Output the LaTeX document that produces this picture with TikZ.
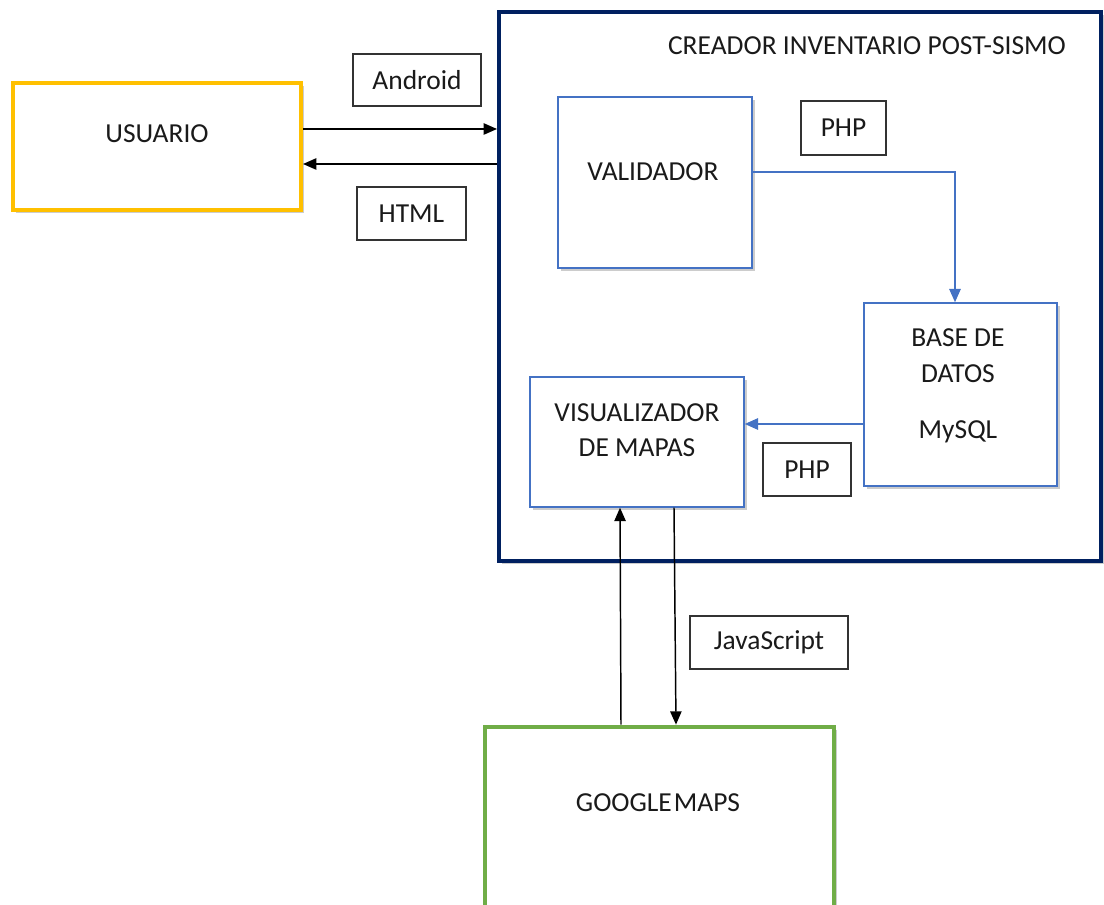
\documentclass[tikz,border=0pt]{standalone}
\usepackage{fontspec}
\setmainfont{Carlito}
\usetikzlibrary{arrows.meta,fit,shadows}
\definecolor{uyellow}{HTML}{FFC000}
\definecolor{unavy}{HTML}{002060}
\definecolor{ublue}{HTML}{4472C4}
\definecolor{ugreen}{HTML}{70AD47}
\definecolor{utext}{HTML}{1A1A1A}
\tikzset{
  softshadow/.style={drop shadow={shadow xshift=2.5pt, shadow yshift=-2.5pt, opacity=0.2, fill=black}},
  bigbox/.style={draw, line width=3pt, inner sep=0pt, fill=white, softshadow},
  bluebox/.style={draw=ublue, line width=1.1pt, inner sep=0pt, fill=white, softshadow},
  tagbox/.style={draw=black!80, line width=1.1pt, inner sep=0pt, fill=white},
  txt/.style={text=utext, font=\fontsize{20.6}{24}\selectfont, inner sep=0pt},
  blk/.style={draw=black, line width=1.1pt, -{Triangle[length=10pt,width=8.5pt]}},
  blu/.style={draw=ublue, line width=1.3pt, -{Triangle[length=10pt,width=8.5pt]}},
}
\begin{document}
\begin{tikzpicture}[x=0.75pt,y=-0.75pt]
\useasboundingbox (0,0) rectangle (1104,905);
\clip (0,0) rectangle (1104,905);
\fill[white] (0,0) rectangle (1104,905);

% outer boxes
\node[bigbox, draw=uyellow, fit={(13,83) (301,210)}] (usuario) {};
\node[bigbox, draw=unavy, fit={(499,12) (1101,561)}] (sistema) {};
\node[bigbox, draw=ugreen, line width=3.5pt, fit={(485,727) (834,915)}] (google) {};

% inner boxes
\node[bluebox, fit={(558,97) (752,268)}] (validador) {};
\node[bluebox, fit={(864,303) (1057,486)}] (bd) {};
\node[bluebox, fit={(530,377) (744,507)}] (visual) {};

% tag boxes
\node[tagbox, fit={(353,54) (481,106)}] (tandroid) {};
\node[tagbox, fit={(357,187) (466,240)}] (thtml) {};
\node[tagbox, fit={(801,101) (886,155)}] (tphp1) {};
\node[tagbox, fit={(763,443) (851,496)}] (tphp2) {};
\node[tagbox, fit={(690,616) (848,669)}] (tjs) {};

% texts
\node[txt] (lusuario) at (157,134) {USUARIO};
\node[txt] (ltitle) at (867,46) {CREADOR INVENTARIO POST-SISMO};
\node[txt] (lvalid) at (653,172) {VALIDADOR};
\node[txt] (lbd1) at (958,338) {BASE DE};
\node[txt] (lbd2) at (958,374) {DATOS};
\node[txt] (lbd3) at (958,432) {MySQL};
\node[txt] (lvis1) at (637,413) {VISUALIZADOR};
\node[txt] (lvis2) at (637,448) {DE MAPAS};
\node[txt] (lgoogle) at (658,803) {GOOGLE\kern1.5pt MAPS};
\node[txt] at (tandroid.center) {Android};
\node[txt] at (thtml.center) {HTML};
\node[txt] at (tphp1.center) {PHP};
\node[txt] at (tphp2.center) {PHP};
\node[txt] at (tjs.center) {JavaScript};

% connectors
\draw[blk] (usuario.east |- 0,129) -- (sistema.west |- 0,129);
\draw[blk] (sistema.west |- 0,164) -- (usuario.east |- 0,164);
\draw[blu] (validador.east |- 0,172) -| (bd.north -| 955,0);
\draw[blu] (bd.west |- 0,424) -- (visual.east |- 0,424);
\draw[blk] (google.north -| 621,0) -- (visual.south -| 620,0);
\draw[blk] (visual.south -| 674,0) -- (google.north -| 676,0);
\end{tikzpicture}
\end{document}
